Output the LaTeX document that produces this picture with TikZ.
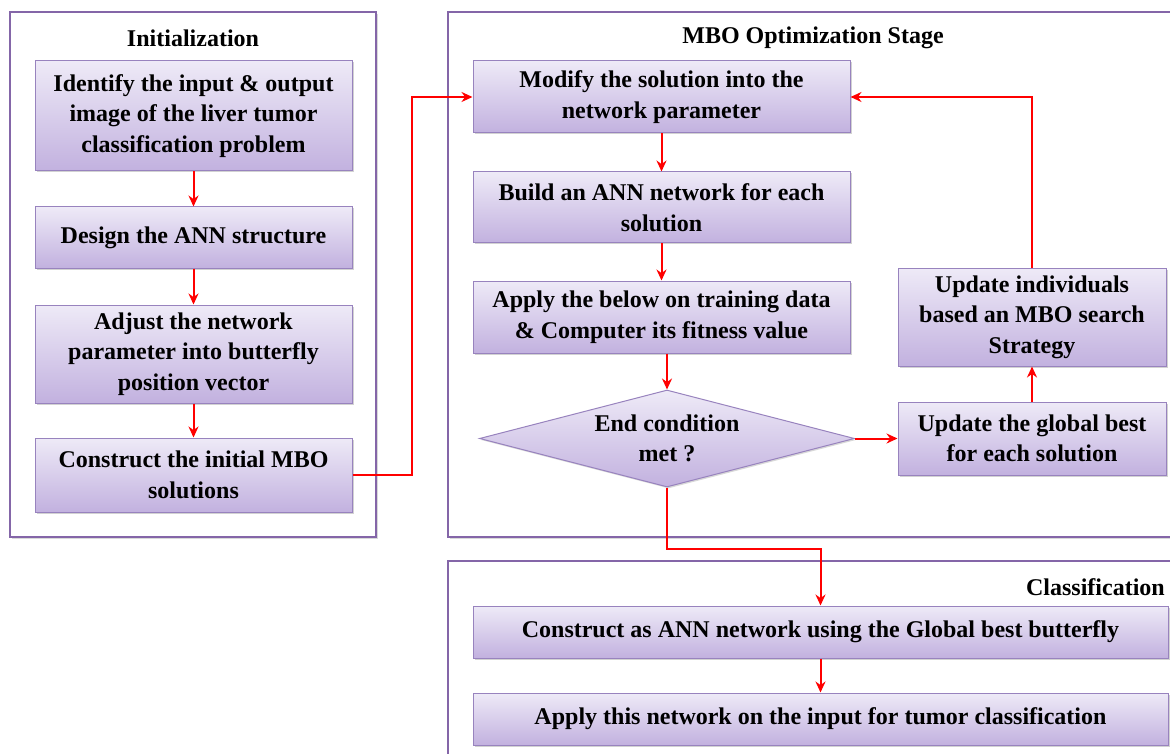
\documentclass[tikz,border=0pt]{standalone}
\usepackage{fontspec}
\setmainfont{Liberation Serif}
\usetikzlibrary{arrows.meta, shapes, shadows, positioning}
\definecolor{framepurple}{HTML}{8466A8}
\definecolor{boxtop}{HTML}{EEEAF7}
\definecolor{boxbottom}{HTML}{C2B1DF}
\definecolor{boxline}{HTML}{9883BE}

\tikzset{
  stepbox/.style={rectangle, draw=boxline, line width=1pt, top color=boxtop, bottom color=boxbottom,
    align=center, inner sep=0pt, font=\fontsize{24}{30.5}\selectfont\bfseries,
    drop shadow={opacity=0.35, shadow xshift=1.5pt, shadow yshift=-1.5pt}},
  decision/.style={diamond, draw=boxline, line width=1pt, top color=boxtop, bottom color=boxbottom,
    align=center, inner sep=0pt, aspect=3.9, font=\fontsize{24}{30.5}\selectfont\bfseries,
    drop shadow={opacity=0.3, shadow xshift=1.5pt, shadow yshift=-1.5pt}},
  stage/.style={rectangle, draw=framepurple, line width=2pt, fill=white,
    drop shadow={opacity=0.3, shadow xshift=2pt, shadow yshift=-2pt}},
  stagetitle/.style={font=\fontsize{24}{29}\selectfont\bfseries, inner sep=0pt},
  flow/.style={-{Stealth[length=11pt,width=10pt]}, red, line width=2pt}
}

\begin{document}
\begin{tikzpicture}[x=1pt, y=-1pt]
  \useasboundingbox (0,0) rectangle (1170,754);
  \clip (0,0) rectangle (1170,754);

  % stage frames
  \node[stage, minimum width=366pt, minimum height=525pt] (initframe) at (193,274.5) {};
  \node[stage, minimum width=740pt, minimum height=525pt] (mboframe) at (818,274.5) {};
  \node[stage, minimum width=740pt, minimum height=215pt] (clsframe) at (818,668.5) {};
  \node[stagetitle] (inittitle) at (193,38) {Initialization};
  \node[stagetitle] (mbotitle) at (813,38) {MBO Optimization Stage};
  \node[stagetitle, anchor=east] (clstitle) at (1165,587) {Classification};

  % initialization
  \node[stepbox, minimum width=317pt, minimum height=110pt] (identify) at (193.5,116)
    {Identify the input \& output\\image of the liver tumor\\classification problem};
  \node[stepbox, minimum width=317pt, minimum height=61pt] (design) at (193.5,237.5)
    {Design the ANN structure};
  \node[stepbox, minimum width=317pt, minimum height=98pt] (adjust) at (193.5,354)
    {Adjust the network\\parameter into butterfly\\position vector};
  \node[stepbox, minimum width=317pt, minimum height=74pt] (initmbo) at (193.5,475)
    {Construct the initial MBO\\solutions};

  % optimization
  \node[stepbox, minimum width=377pt, minimum height=72pt] (modify) at (661.5,97)
    {Modify the solution into the\\network parameter};
  \node[stepbox, minimum width=377pt, minimum height=71pt] (build) at (661.5,207.5)
    {Build an ANN network for each\\solution};
  \node[stepbox, minimum width=377pt, minimum height=72pt] (fitness) at (661.5,317)
    {Apply the below on training data\\\& Computer its fitness value};
  \node[decision, minimum width=375pt, minimum height=97pt] (endcond) at (667,438.5)
    {End condition\\met ?};
  \node[stepbox, minimum width=268pt, minimum height=73pt] (gbest) at (1032,438.5)
    {Update the global best\\for each solution};
  \node[stepbox, minimum width=268pt, minimum height=98pt] (indiv) at (1032,317)
    {Update individuals\\based an MBO search\\Strategy};

  % classification
  \node[stepbox, minimum width=695pt, minimum height=52pt] (buildbest) at (820.5,632)
    {Construct as ANN network using the Global best butterfly};
  \node[stepbox, minimum width=695pt, minimum height=52pt] (classify) at (820.5,719)
    {Apply this network on the input for tumor classification};

  % connectors
  \draw[flow] (identify) -- (design);
  \draw[flow] (design) -- (adjust);
  \draw[flow] (adjust) -- (initmbo);
  \draw[flow] (initmbo.east) -- ++(59,0) |- (modify.west);
  \draw[flow] (modify) -- (build);
  \draw[flow] (build) -- (fitness);
  \draw[flow] (fitness.south -| endcond.north) -- (endcond.north);
  \draw[flow] (endcond.east) -- (gbest.west);
  \draw[flow] (gbest) -- (indiv);
  \draw[flow] (indiv.north) |- (modify.east);
  \draw[flow] (endcond.south) -- ++(0,61) -| (buildbest.north);
  \draw[flow] (buildbest) -- (classify);
\end{tikzpicture}
\end{document}
